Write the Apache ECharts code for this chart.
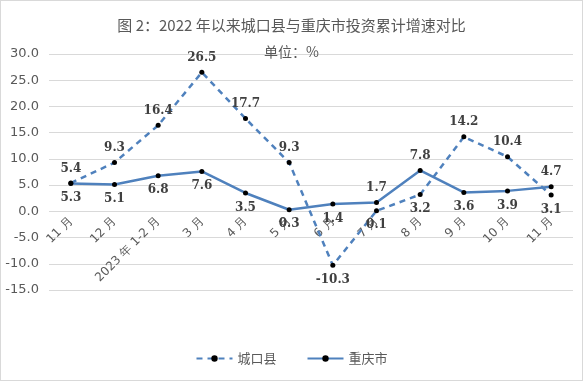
<!DOCTYPE html>
<html><head><meta charset="utf-8">
<script src="https://cdn.jsdelivr.net/npm/echarts@6/dist/echarts.min.js"></script>
<style>html,body{margin:0;padding:0;background:#fff}#c{width:581px;height:379px;border:1px solid #d9d9d9}</style>
</head><body><div id="c"></div>
<script>
const categories = ['11 月','12 月','2023 年 1-2 月','3 月','4 月','5 月','6 月','7 月','8 月','9 月','10 月','11 月'];
const chengkou = [5.4, 9.3, 16.4, 26.5, 17.7, 9.3, -10.3, 0.1, 3.2, 14.2, 10.4, 3.1];
const chongqing = [5.3, 5.1, 6.8, 7.6, 3.5, 0.3, 1.4, 1.7, 7.8, 3.6, 3.9, 4.7];
const yTicks = {min:-15, max:30, interval:5};
const ckPos = ['top','top','top','top','top','top','bottom','bottom','bottom','top','top','bottom'];
const cqPos = ['bottom','bottom','bottom','bottom','bottom','bottom','bottom','top','top','bottom','bottom','top'];
const labelStyle = {show:true, fontFamily:'DejaVu Serif', fontWeight:'bold', fontSize:12, color:'#404040', distance:6, formatter: p => p.value.toFixed(1)};
const gridTop = 53, gridBottom = 90, H = 379;
const plotH = H - gridTop - gridBottom;
const zeroOffset = plotH * (0 - yTicks.min) / (yTicks.max - yTicks.min);
const chart = echarts.init(document.getElementById('c'));
chart.setOption({
  animation:false,
  title:[
    {text:'图 2：2022 年以来城口县与重庆市投资累计增速对比', left:'center', top:12, textStyle:{fontSize:15, fontWeight:'normal', color:'#595959', fontFamily:'Noto Sans CJK SC'}},
    {text:'单位：%', left:'center', top:39, textStyle:{fontSize:14, fontWeight:'normal', color:'#595959', fontFamily:'Noto Sans CJK SC'}}
  ],
  grid:{left:48, right:9, top:gridTop, bottom:gridBottom},
  legend:{bottom:10, left:'center', itemWidth:36, itemHeight:8, itemGap:30, textStyle:{fontSize:13, color:'#595959', fontFamily:'Noto Sans CJK SC'},
    data:['城口县','重庆市']},
  xAxis:{type:'category', data:categories, boundaryGap:true, offset:-zeroOffset,
    axisLine:{show:false, onZero:false}, axisTick:{show:false},
    axisLabel:{rotate:45, fontSize:12, color:'#595959', fontFamily:'DejaVu Sans', interval:0, margin:8}},
  yAxis:{type:'value', min:yTicks.min, max:yTicks.max, interval:yTicks.interval,
    axisLabel:{formatter:v=>v.toFixed(1), fontSize:13, color:'#595959', fontFamily:'DejaVu Sans', margin:10},
    axisLine:{show:false}, axisTick:{show:false}, splitLine:{lineStyle:{color:'#d9d9d9'}}},
  series:[
    {name:'城口县', type:'line', data:chengkou.map((v,i)=>({value:v, label:{position:ckPos[i]}})),
      lineStyle:{color:'#4f81bd', width:2.5, type:[6,5]}, itemStyle:{color:'#000'},
      symbol:'circle', symbolSize:5, label:labelStyle, z:3},
    {name:'重庆市', type:'line', data:chongqing.map((v,i)=>({value:v, label:{position:cqPos[i]}})),
      lineStyle:{color:'#4f81bd', width:2.5}, itemStyle:{color:'#000'},
      symbol:'circle', symbolSize:5, label:labelStyle, z:2}
  ]
});
</script></body></html>
